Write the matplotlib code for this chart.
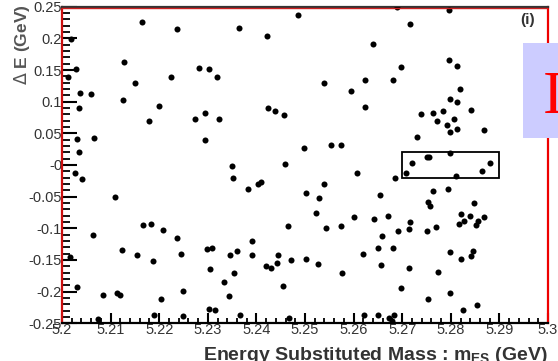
import matplotlib
matplotlib.use('Agg')
import matplotlib.pyplot as plt
from matplotlib.patches import Rectangle
from matplotlib.lines import Line2D
from matplotlib.ticker import FixedLocator, FixedFormatter, MultipleLocator

plt.rcParams['font.family'] = ['Liberation Sans', 'DejaVu Sans']

# m_ES (GeV) of each candidate
mes = [
    5.2165, 5.2236, 5.2019, 5.2127, 5.2029, 5.2012, 5.2224, 5.2151, 5.2038, 5.2060,
    5.2125, 5.2034, 5.2200, 5.2179, 5.2031, 5.2065, 5.2036, 5.2485, 5.2364, 5.2422,
    5.2282, 5.2302, 5.2318, 5.2424, 5.2438, 5.2457, 5.2295, 5.2273, 5.2323, 5.2294,
    5.2498, 5.2350, 5.2458, 5.2689, 5.2716, 5.2639, 5.2697, 5.2539, 5.2623, 5.2682,
    5.2594, 5.2623, 5.2738, 5.2730, 5.2553, 5.2574, 5.2721, 5.2750, 5.2796, 5.2796,
    5.2812, 5.2818, 5.2798, 5.2812, 5.2763, 5.2783, 5.2842, 5.2772, 5.2806, 5.2792,
    5.2812, 5.2798, 5.2868, 5.2755, 5.2799, 5.2880, 5.2864, 5.2708, 5.2810, 5.2685,
    5.2026, 5.2041, 5.2109, 5.2064, 5.2167, 5.2184, 5.2208, 5.2236, 5.2245, 5.2124,
    5.2155, 5.2187, 5.2016, 5.2031, 5.2084, 5.2113, 5.2120, 5.2204, 5.2248, 5.2189,
    5.2074, 5.2249, 5.2352, 5.2382, 5.2403, 5.2409, 5.2502, 5.2464, 5.2391, 5.2298,
    5.2309, 5.2345, 5.2360, 5.2391, 5.2445, 5.2471, 5.2502, 5.2419, 5.2430, 5.2443,
    5.2304, 5.2354, 5.2334, 5.2454, 5.2344, 5.2303, 5.2314, 5.2366, 5.2467, 5.2607,
    5.2539, 5.2529, 5.2655, 5.2522, 5.2601, 5.2643, 5.2671, 5.2717, 5.2543, 5.2574,
    5.2692, 5.2715, 5.2750, 5.2659, 5.2650, 5.2681, 5.2620, 5.2526, 5.2656, 5.2577,
    5.2714, 5.2697, 5.2753, 5.2621, 5.2650, 5.2672, 5.2683, 5.2679, 5.2764, 5.2794,
    5.2753, 5.2758, 5.2848, 5.2822, 5.2839, 5.2828, 5.2817, 5.2856, 5.2869, 5.2851,
    5.2770, 5.2799, 5.2822, 5.2845, 5.2842, 5.2773, 5.2798, 5.2825, 5.2854,
]

# Delta E (GeV) of each candidate
delta_e = [
    0.2254, 0.2143, 0.1995, 0.1622, 0.1521, 0.1385, 0.1385, 0.1300, 0.1142, 0.1117,
    0.1022, 0.0900, 0.0927, 0.0695, 0.0406, 0.0426, 0.0201, 0.2369, 0.2168, 0.2037,
    0.1537, 0.1516, 0.1390, 0.0895, 0.0848, 0.0794, 0.0816, 0.0722, 0.0722, 0.0395,
    0.0268, -0.0011, 0.0021, 0.2491, 0.2222, 0.1916, 0.1543, 0.1295, 0.1342, 0.1342,
    0.1173, 0.0921, 0.0805, 0.0447, 0.0321, 0.0321, 0.0027, 0.0126, 0.2443, 0.1654,
    0.1568, 0.1196, 0.1047, 0.0995, 0.0826, 0.0848, 0.0864, 0.0700, 0.0722, 0.0627,
    0.0573, 0.0521, 0.0548, 0.0126, 0.0190, 0.0027, -0.0099, -0.0122, -0.0174, -0.0201,
    -0.0131, -0.0221, -0.0505, -0.1106, -0.0948, -0.0937, -0.1027, -0.1158, -0.1401, -0.1342,
    -0.1421, -0.1516, -0.1448, -0.1922, -0.2048, -0.2026, -0.2053, -0.2121, -0.1985, -0.2369,
    -0.2437, -0.2389, -0.0201, -0.0379, -0.0300, -0.0268, -0.0447, -0.0963, -0.1200, -0.1327,
    -0.1306, -0.1426, -0.1353, -0.1426, -0.1421, -0.1500, -0.1480, -0.1595, -0.1627, -0.1552,
    -0.1647, -0.1701, -0.1848, -0.1906, -0.2069, -0.2269, -0.2290, -0.2369, -0.2416, -0.0131,
    -0.0300, -0.0526, -0.0469, -0.0753, -0.0826, -0.0858, -0.0801, -0.0905, -0.1000, -0.0959,
    -0.1038, -0.1011, -0.1047, -0.1121, -0.1306, -0.1306, -0.1406, -0.1568, -0.1579, -0.1701,
    -0.1631, -0.1947, -0.2112, -0.2369, -0.2369, -0.2421, -0.2374, -0.2468, -0.0411, -0.0379,
    -0.0589, -0.0643, -0.0595, -0.0779, -0.0801, -0.0884, -0.0927, -0.0884, -0.0826, -0.0943,
    -0.0974, -0.1374, -0.1480, -0.1358, -0.1432, -0.1685, -0.2026, -0.2285, -0.2211,
]

x_ticks = [5.20, 5.21, 5.22, 5.23, 5.24, 5.25, 5.26, 5.27, 5.28, 5.29, 5.30]
x_tick_labels = ['5.2', '5.21', '5.22', '5.23', '5.24', '5.25', '5.26', '5.27', '5.28', '5.29', '5.3']
y_ticks = [0.25, 0.2, 0.15, 0.1, 0.05, 0.0, -0.05, -0.1, -0.15, -0.2, -0.25]
y_tick_labels = ['0.25', '0.2', '0.15', '0.1', '0.05', '-0', '-0.05', '-0.1', '-0.15', '-0.2', '-0.25']

# signal region: m_ES range and Delta E range
box_mes = [5.27, 5.29]
box_de = [-0.02, 0.02]

W, H = 558, 361
fig = plt.figure(figsize=(W / 100, H / 100), dpi=100)
fig.patch.set_facecolor('white')

L, R, T, B = 62, 548, 6.7, 323.3
ax = fig.add_axes([L / W, 1 - B / H, (R - L) / W, (B - T) / H])
ax.set_xlim(5.2, 5.3)
ax.set_ylim(-0.25, 0.25)

ax.scatter(mes, delta_e, s=19, c='black', marker='o', linewidths=0, zorder=3)

ax.add_patch(Rectangle((box_mes[0], box_de[0]), box_mes[1] - box_mes[0],
                       box_de[1] - box_de[0], fill=False, edgecolor='black',
                       linewidth=1.3, zorder=4))

ax.xaxis.set_major_locator(FixedLocator(x_ticks))
ax.xaxis.set_major_formatter(FixedFormatter(x_tick_labels))
ax.xaxis.set_minor_locator(MultipleLocator(0.002))
ax.yaxis.set_major_locator(FixedLocator(y_ticks))
ax.yaxis.set_major_formatter(FixedFormatter(y_tick_labels))
ax.yaxis.set_minor_locator(MultipleLocator(0.01))

ax.tick_params(axis='x', which='major', direction='in', length=7, width=1.5,
               pad=0, labelsize=10.5, labelcolor='#333333')
ax.tick_params(axis='x', which='minor', direction='in', length=3.5, width=1.3)
ax.tick_params(axis='y', which='major', direction='in', length=10.5, width=1.5,
               pad=0, labelsize=10.5, labelcolor='#333333')
ax.tick_params(axis='y', which='minor', direction='in', length=5.5, width=1.3)
ax.tick_params(top=False, right=False, which='both')

for side in ['left', 'bottom', 'right', 'top']:
    ax.spines[side].set_linewidth(1.6)
ax.spines['left'].set_color('#cc1010')
ax.spines['right'].set_color('#ee0000')
ax.spines['bottom'].set_color('black')
ax.spines['top'].set_color('#333333')
ax.add_line(Line2D([0, 1], [0.995, 0.995], transform=ax.transAxes,
                   color='#cc2020', linewidth=1.0, zorder=5))

fig.text(R / W, 1 - 360.5 / H, 'Energy Substituted Mass : m$_{\\mathregular{ES}}$ (GeV)',
         ha='right', va='baseline', fontsize=14, fontweight='bold', color='#333333')
fig.text(22 / W, 1 - 4 / H, '$\\Delta$ E (GeV)', rotation=90, ha='center', va='top',
         fontsize=12.5, fontweight='bold', color='#555555')
fig.text(528 / W, 1 - 20 / H, '(i)', ha='center', va='center', fontsize=11,
         fontweight='bold', color='#333333')

fig.add_artist(Rectangle((522.7 / W, 1 - 138.3 / H), 40 / W, 95.6 / H,
                         transform=fig.transFigure, facecolor='#ccccff',
                         edgecolor='none', zorder=10))
fig.text(543 / W, 1 - 113 / H, 'I', ha='left', va='baseline', fontsize=44,
         family='Liberation Serif', color='#ff0000', zorder=11)

fig.savefig('out.png', dpi=100)
